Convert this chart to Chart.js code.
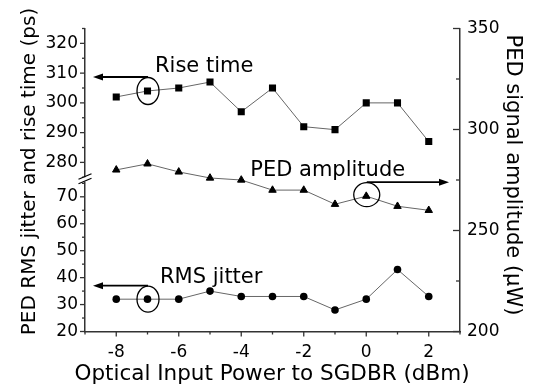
<!DOCTYPE html>
<html><head><meta charset="utf-8">
<script src="https://cdn.jsdelivr.net/npm/chart.js@4/dist/chart.umd.min.js"></script>
<style>html,body{margin:0;padding:0;background:#fff;}canvas{display:block}</style>
</head><body>
<canvas id="c" width="537" height="388"></canvas>
<script>
// ---- data ----
const xValues = [-8, -7, -6, -5, -4, -3, -2, -1, 0, 1, 2];
const riseTime = [302, 304, 305, 307, 297, 305, 292, 291, 300, 300, 287];
const rmsJitter = [32, 32, 32, 35, 33, 33, 33, 28, 32, 43, 33];
const pedAmplitude = [280, 283, 279, 276, 275, 270, 270, 263, 267, 262, 260];

const xTicks = [-8, -6, -4, -2, 0, 2];
const xMinorTicks = [-9, -7, -5, -3, -1, 1, 3];
const leftTopTicks = [280, 290, 300, 310, 320];
const leftTopMinor = [275, 285, 295, 305, 315, 325];
const leftBotTicks = [20, 30, 40, 50, 60, 70];
const leftBotMinor = [25, 35, 45, 55, 65, 75];
const rightTicks = [200, 250, 300, 350];
const rightMinor = [225, 275, 325];

const xTitle = 'Optical Input Power to SGDBR (dBm)';
const yLeftTitle = 'PED RMS jitter and rise time (ps)';
const yRightTitle = 'PED signal amplitude (\u00B5W)';

const FONT = "'DejaVu Sans', sans-serif";
const AXIS = '#333';
const pts = arr => xValues.map((x, i) => ({x, y: arr[i]}));

const annotations = [
  {text: 'Rise time', axis: 'yTop', x: -7, y: riseTime[1], rx: 11, ry: 13.5, dir: 'left', tdx: 7.5, tdy: -19, edy: 0},
  {text: 'PED amplitude', axis: 'yR', x: 0, y: pedAmplitude[8], rx: 13, ry: 12, dir: 'right', tdx: -116, tdy: -20, edy: -1.5},
  {text: 'RMS jitter', axis: 'yBot', x: -7, y: rmsJitter[1], rx: 11, ry: 13, dir: 'left', tdx: 12.5, tdy: -16, edy: 0}
];

function seg(ctx, x1, y1, x2, y2) { ctx.beginPath(); ctx.moveTo(x1, y1); ctx.lineTo(x2, y2); ctx.stroke(); }

const decor = {
  id: 'decor',
  afterDatasetsDraw(chart) {
    const {ctx, chartArea: ca, scales} = chart;
    ctx.save();
    ctx.strokeStyle = AXIS; ctx.lineWidth = 1.3;
    // left ticks (outward)
    leftTopTicks.forEach(v => { const y = scales.yTop.getPixelForValue(v); seg(ctx, ca.left - 5, y, ca.left, y); });
    leftTopMinor.forEach(v => { const y = scales.yTop.getPixelForValue(v); seg(ctx, ca.left - 3, y, ca.left, y); });
    leftBotTicks.forEach(v => { const y = scales.yBot.getPixelForValue(v); seg(ctx, ca.left - 5, y, ca.left, y); });
    leftBotMinor.forEach(v => { const y = scales.yBot.getPixelForValue(v); seg(ctx, ca.left - 3, y, ca.left, y); });
    // right ticks (inward)
    rightTicks.forEach(v => { const y = scales.yR.getPixelForValue(v); seg(ctx, ca.right - 7, y, ca.right, y); });
    rightMinor.forEach(v => { const y = scales.yR.getPixelForValue(v); seg(ctx, ca.right - 4, y, ca.right, y); });
    // x ticks (outward)
    xTicks.forEach(v => { const x = scales.x.getPixelForValue(v); seg(ctx, x, ca.bottom, x, ca.bottom + 5); });
    xMinorTicks.forEach(v => { const x = scales.x.getPixelForValue(v); seg(ctx, x, ca.bottom, x, ca.bottom + 3); });
    // axis break
    const b = scales.yTop.bottom;
    ctx.fillStyle = '#fff';
    ctx.fillRect(ca.left - 4, b - 1.5, 8, 4.5);
    ctx.strokeStyle = '#000'; ctx.lineWidth = 1.2;
    seg(ctx, ca.left - 6.5, b + 0.5, ca.left + 6.5, b - 5);
    seg(ctx, ca.left - 6.5, b + 5, ca.left + 6.5, b - 0.5);
    // annotations
    ctx.fillStyle = '#000'; ctx.strokeStyle = '#000';
    ctx.font = '21px ' + FONT; ctx.textAlign = 'left'; ctx.textBaseline = 'alphabetic';
    annotations.forEach(a => {
      const cx = scales.x.getPixelForValue(a.x);
      const cy = scales[a.axis].getPixelForValue(a.y) + a.edy;
      ctx.lineWidth = 1.3;
      ctx.beginPath(); ctx.ellipse(cx + 0.5, cy, a.rx, a.ry, 0, 0, Math.PI * 2); ctx.stroke();
      const ay = cy - a.ry - 0.5;
      const tip = a.dir === 'left' ? ca.left + 8 : ca.right - 11;
      const d = a.dir === 'left' ? -1 : 1;
      ctx.lineWidth = 1.8;
      seg(ctx, cx + 0.5, ay, tip - d * 8, ay);
      ctx.beginPath(); ctx.moveTo(tip, ay); ctx.lineTo(tip - d * 10, ay - 3.5); ctx.lineTo(tip - d * 10, ay + 3.5); ctx.closePath(); ctx.fill();
      ctx.fillText(a.text, cx + a.tdx, scales[a.axis].getPixelForValue(a.y) + a.tdy);
    });
    // axis titles
    ctx.font = '21.5px ' + FONT; ctx.textAlign = 'center'; ctx.textBaseline = 'alphabetic';
    ctx.fillText(xTitle, 272, 380);
    ctx.save(); ctx.translate(35, 171.5); ctx.rotate(-Math.PI / 2);
    ctx.font = '20px ' + FONT; ctx.fillText(yLeftTitle, 0, 0); ctx.restore();
    ctx.save(); ctx.translate(507, 175); ctx.rotate(Math.PI / 2);
    ctx.font = '21px ' + FONT; ctx.fillText(yRightTitle, 0, 0); ctx.restore();
    ctx.restore();
  }
};

const tickFont = {family: FONT, size: 17};
const setTicks = arr => s => { s.ticks = arr.map(v => ({value: v})); };
const common = {
  grid: {display: false, drawTicks: false, drawOnChartArea: false},
  border: {display: true, color: AXIS, width: 1.5}
};

new Chart(document.getElementById('c'), {
  type: 'line',
  data: {
    datasets: [
      {label: 'Rise time', data: pts(riseTime), xAxisID: 'x', yAxisID: 'yTop',
       borderColor: '#666', borderWidth: 1, pointStyle: 'rect', pointRadius: 5,
       pointBackgroundColor: '#000', pointBorderColor: '#000', pointBorderWidth: 0},
      {label: 'RMS jitter', data: pts(rmsJitter), xAxisID: 'x', yAxisID: 'yBot',
       borderColor: '#666', borderWidth: 1, pointStyle: 'circle', pointRadius: 3.8,
       pointBackgroundColor: '#000', pointBorderColor: '#000', pointBorderWidth: 0},
      {label: 'PED amplitude', data: pts(pedAmplitude), xAxisID: 'x', yAxisID: 'yR',
       borderColor: '#666', borderWidth: 1, pointStyle: 'triangle', pointRadius: 4.3,
       pointBackgroundColor: '#000', pointBorderColor: '#000', pointBorderWidth: 1}
    ]
  },
  options: {
    responsive: false, animation: false, devicePixelRatio: 1,
    layout: {padding: {top: 28.5, left: 0, right: 0, bottom: 0}},
    plugins: {legend: {display: false}, tooltip: {enabled: false}},
    scales: {
      x: {type: 'linear', position: 'bottom', min: -9, max: 3, ...common,
          afterBuildTicks: setTicks(xTicks),
          ticks: {font: tickFont, color: '#000', padding: 11, maxRotation: 0, autoSkip: false, callback: v => String(v)},
          afterFit: s => { s.height = 56.5; }},
      yBot: {type: 'linear', position: 'left', stack: 'left', stackWeight: 153, min: 20, max: 76.7, ...common,
          afterBuildTicks: setTicks(leftBotTicks),
          ticks: {font: tickFont, color: '#000', padding: 7, autoSkip: false, callback: v => String(v)},
          afterFit: s => { s.width = 85; }},
      yTop: {type: 'linear', position: 'left', stack: 'left', stackWeight: 150.5, min: 274.5, max: 325, ...common,
          afterBuildTicks: setTicks(leftTopTicks),
          ticks: {font: tickFont, color: '#000', padding: 7, autoSkip: false, callback: v => String(v)},
          afterFit: s => { s.width = 85; }},
      yR: {type: 'linear', position: 'right', min: 200, max: 350, ...common,
          afterBuildTicks: setTicks(rightTicks),
          ticks: {font: tickFont, color: '#000', padding: 7, autoSkip: false, callback: v => String(v)},
          afterFit: s => { s.width = 77; }}
    }
  },
  plugins: [decor]
});
</script>
</body></html>
